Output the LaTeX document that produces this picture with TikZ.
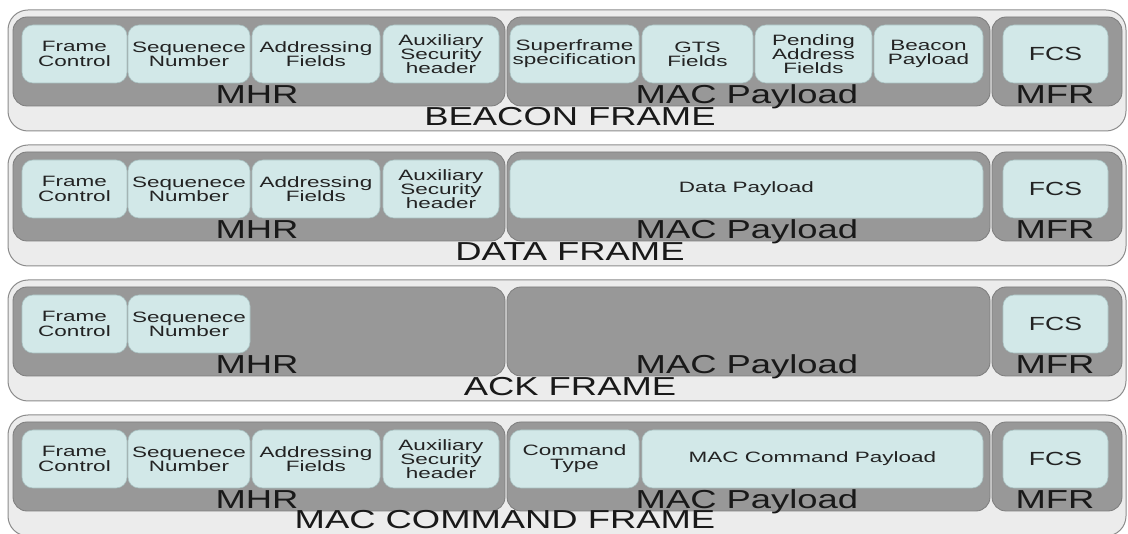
\documentclass[tikz,border=0pt]{standalone}
\usepackage{fontspec}
\setmainfont{Liberation Sans}[FakeStretch=1.4]
\newfontfamily\cellfam{Liberation Sans}[FakeStretch=1.5]
\definecolor{outerfill}{RGB}{236,236,236}
\definecolor{outerline}{RGB}{140,140,140}
\definecolor{darkfill}{RGB}{152,152,152}
\definecolor{darkline}{RGB}{125,125,125}
\definecolor{cellfill}{RGB}{210,232,232}
\definecolor{cellline}{RGB}{170,195,195}
\definecolor{celltext}{RGB}{35,35,35}
\definecolor{lbltext}{RGB}{25,25,25}
\newcommand\cellfnt{\cellfam\fontsize{15}{14.2}\selectfont}
\newcommand\fcsfnt{\fontsize{19}{19}\selectfont}
\newcommand\bigfnt{\fontsize{26}{26}\selectfont}
\tikzset{
  outerbox/.style={draw=outerline, fill=outerfill, rounded corners=20pt, line width=1pt, inner sep=0pt, minimum width=1118pt, minimum height=121pt},
  darkbox/.style={draw=darkline, fill=darkfill, rounded corners=14pt, line width=0.8pt, inner sep=0pt, minimum height=89pt},
  cell/.style={draw=cellline, fill=cellfill, rounded corners=11pt, line width=0.6pt, inner sep=0pt, minimum height=58pt, align=center, text=celltext, font=\cellfnt},
  lbl/.style={anchor=base, inner sep=0pt, text=lbltext, font=\bigfnt},
}
\newcommand\shell[1]{%
  \node[outerbox] (#1-frame) at (567,60.5) {};
  \node[darkbox, minimum width=492pt] (#1-mhr) at (259,51.5) {};
  \node[darkbox, minimum width=483pt] (#1-pay) at (748.5,51.5) {};
  \node[darkbox, minimum width=130pt] (#1-mfr) at (1057,51.5) {};
  \node[lbl] (#1-mhrl) at (257,94) {MHR};
  \node[lbl] (#1-payl) at (747,94) {MAC Payload};
  \node[lbl] (#1-mfrl) at (1055,94) {MFR};
  \node[cell, minimum width=105pt, font=\fcsfnt] (#1-fcs) at (1055.5,44) {FCS};
  \node[cell, minimum width=105pt] (#1-fc) at (74.5,44) {Frame\\Control};
  \node[cell, minimum width=122pt] (#1-sn) at (189,44) {Sequenece\\Number};
}
\newcommand\hdrcells[1]{%
  \node[cell, minimum width=128pt] (#1-af) at (316,44) {Addressing\\Fields};
  \node[cell, minimum width=116pt] (#1-ash) at (441,44) {Auxiliary\\Security\\header};
}
\begin{document}
\begin{tikzpicture}[x=1pt, y=-1pt]
\clip (0,0) rectangle (1128,534);
\fill[white] (0,0) rectangle (1128,534);
% BEACON FRAME
\begin{scope}[shift={(0,10)}]
  \shell{b}
  \hdrcells{b}
  \node[cell, minimum width=129pt] (b-sf) at (574.5,44) {Superframe\\specification};
  \node[cell, minimum width=111pt] (b-gts) at (697.5,44) {GTS\\Fields};
  \node[cell, minimum width=117pt] (b-paf) at (813.5,44) {Pending\\Address\\Fields};
  \node[cell, minimum width=109pt] (b-bp) at (928.5,44) {Beacon\\Payload};
  \node[lbl] (b-title) at (570,116) {BEACON FRAME};
\end{scope}
% DATA FRAME
\begin{scope}[shift={(0,145)}]
  \shell{d}
  \hdrcells{d}
  \node[cell, minimum width=473pt] (d-dp) at (746.5,44) {Data Payload};
  \node[lbl] (d-title) at (570,116) {DATA FRAME};
\end{scope}
% ACK FRAME
\begin{scope}[shift={(0,280)}]
  \shell{a}
  \node[lbl] (a-title) at (570,116) {ACK FRAME};
\end{scope}
% MAC COMMAND FRAME
\begin{scope}[shift={(0,415)}]
  \shell{c}
  \hdrcells{c}
  \node[cell, minimum width=129pt] (c-ct) at (574.5,44) {Command\\Type};
  \node[cell, minimum width=341pt] (c-mcp) at (812.5,44) {MAC Command Payload};
  \node[lbl] (c-title) at (505,114) {MAC COMMAND FRAME};
\end{scope}
\end{tikzpicture}
\end{document}
